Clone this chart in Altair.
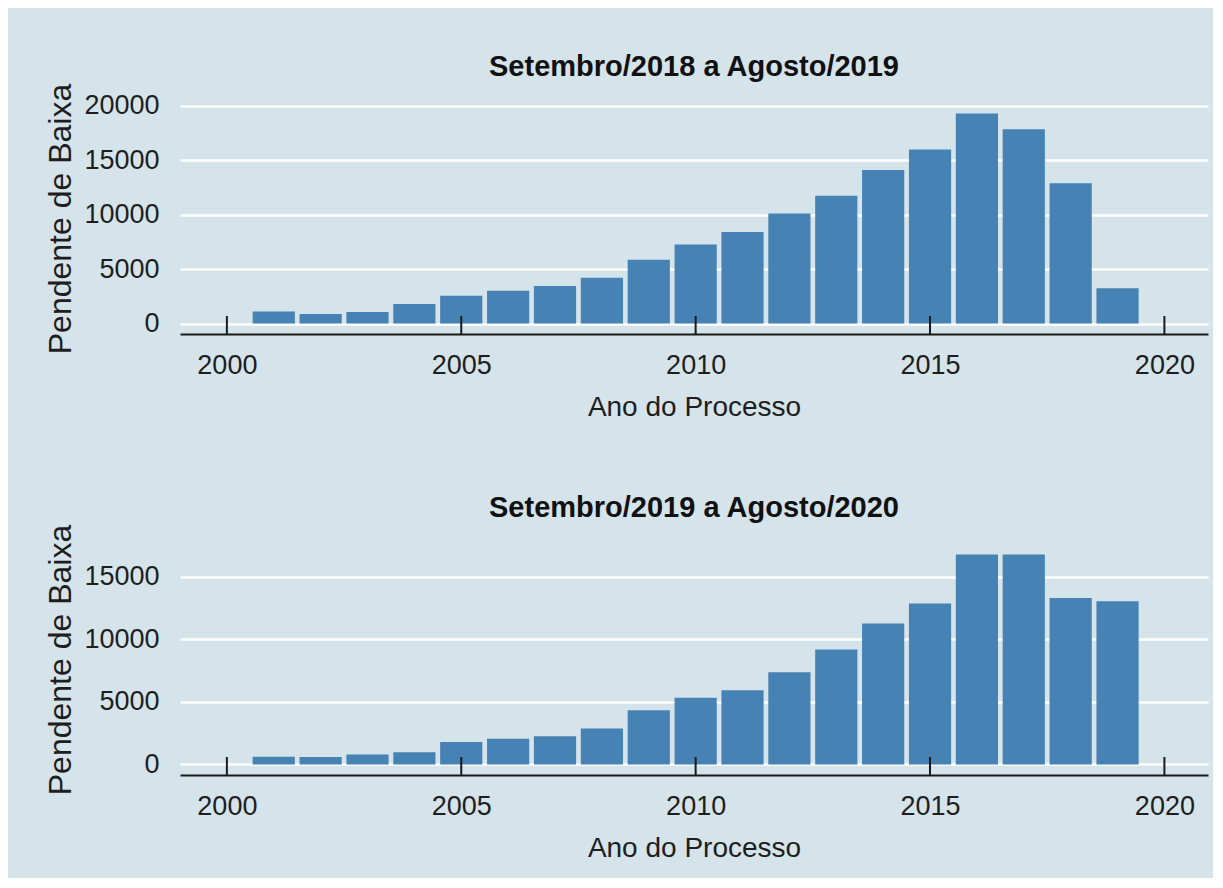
import altair as alt
import pandas as pd

years = list(range(2001, 2020))
vals_2019 = [1100, 870, 1050, 1800, 2550, 3000, 3450, 4200, 5850, 7250,
             8400, 10100, 11750, 14100, 16000, 19300, 17850, 12900, 3250]
vals_2020 = [620, 600, 800, 980, 1800, 2050, 2260, 2880, 4340, 5330,
             5940, 7380, 9190, 11270, 12870, 16790, 16790, 13320, 13050]
titles = ["Setembro/2018 a Agosto/2019", "Setembro/2019 a Agosto/2020"]
x_ticks = [2000, 2005, 2010, 2015, 2020]
y_ticks_1 = [0, 5000, 10000, 15000, 20000]
y_ticks_2 = [0, 5000, 10000, 15000]

BG = "#d5e3ea"
BAR = "#4682b4"
FONT = "Liberation Sans"
W, H = 1028, 231


def panel(values, title, yticks, ydomain):
    df = pd.DataFrame({"ano": years, "n": values})
    xscale = alt.Scale(domain=[1999.0, 2020.93], nice=False, zero=False)
    yscale = alt.Scale(domain=ydomain, nice=False, zero=False)
    bars = alt.Chart(df).transform_calculate(
        x0="datum.ano - 0.45", x1="datum.ano + 0.45"
    ).mark_bar(color=BAR).encode(
        x=alt.X("x0:Q", scale=xscale,
                axis=alt.Axis(values=x_ticks, format="d", title="Ano do Processo",
                              grid=False, ticks=False, domain=True,
                              domainColor="#1a1a1a", domainWidth=2.2,
                              labelFontSize=27, labelFont=FONT, labelColor="#1e1e1e",
                              labelPadding=18, titleFontSize=28, titleFont=FONT,
                              titleFontWeight="normal", titleColor="#1e1e1e",
                              titlePadding=15)),
        x2="x1:Q",
        y=alt.Y("n:Q", scale=yscale,
                axis=alt.Axis(values=yticks, format="d", title="Pendente de Baixa",
                              grid=True, gridColor="white", gridWidth=2.5,
                              ticks=False, domain=False,
                              labelFontSize=27, labelFont=FONT, labelColor="#1e1e1e",
                              labelPadding=21, titleFontSize=32, titleFont=FONT,
                              titleFontWeight="normal", titleColor="#1e1e1e",
                              titlePadding=6)),
        y2=alt.datum(0),
    )
    tdf = pd.DataFrame({"t": x_ticks})
    ticks = alt.Chart(tdf).mark_rule(color="#1a1a1a", strokeWidth=2).encode(
        x=alt.X("t:Q", scale=xscale),
        y=alt.value(H),
        y2=alt.value(H - 18),
    )
    return alt.layer(bars, ticks).properties(
        width=W, height=H,
        title=alt.TitleParams(title, fontSize=29, fontWeight="bold", font=FONT,
                              color="#111111", anchor="middle", frame="group",
                              offset=1),
    )


top = panel(vals_2019, titles[0], y_ticks_1, [-965, 20265])
bottom = panel(vals_2020, titles[1], y_ticks_2, [-840, 17630])

chart = alt.vconcat(top, bottom, spacing=73).properties(
    background=BG,
    padding={"top": 45, "left": 36, "right": 5, "bottom": 16},
).configure_view(stroke=None, fill=BG)

chart.save("out.html", embed_options={"renderer": "svg", "actions": False})
